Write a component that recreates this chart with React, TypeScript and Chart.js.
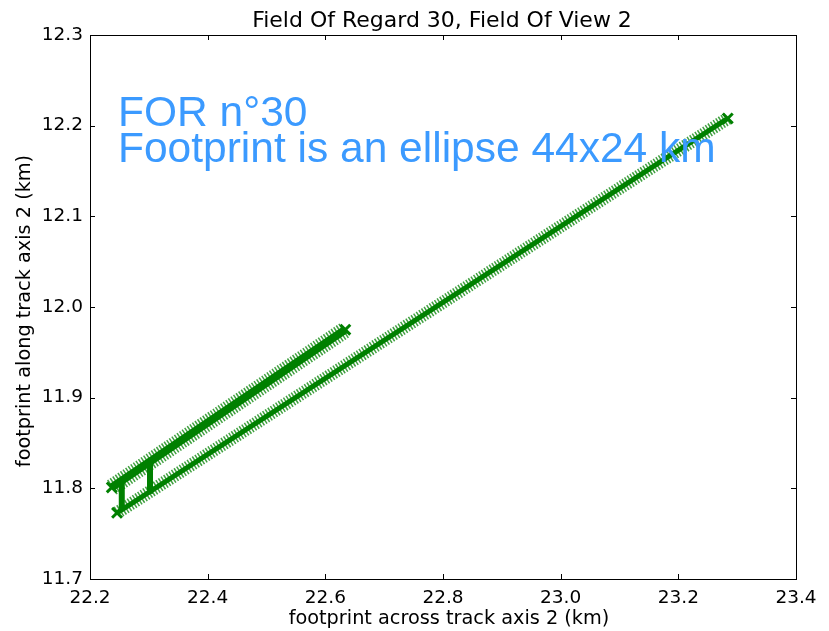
import React, { useEffect, useRef } from "react";
import { Chart, registerables } from "chart.js";

Chart.register(...registerables);

// Axis ticks
const xTicks = [22.2, 22.4, 22.6, 22.8, 23.0, 23.2, 23.4];
const yTicks = [11.7, 11.8, 11.9, 12.0, 12.1, 12.2, 12.3];

// Footprint centre tracks (across-track km, along-track km)
const upperTrackX = [22.237, 22.634];
const upperTrackY = [11.801, 11.975];
const lowerTrackX = [22.246, 23.284];
const lowerTrackY = [11.773, 12.208];
// Jumps between the two tracks
const jumpAX = [22.254, 22.254];
const jumpAY = [11.809, 11.776];
const jumpBX = [22.302, 22.302];
const jumpBY = [11.829, 11.794];

const titleText = "Field Of Regard 30, Field Of View 2";
const xLabel = "footprint across track axis 2 (km)";
const yLabel = "footprint along track axis 2 (km)";
const noteLines = ["FOR n°30", "Footprint is an ellipse 44x24 km"];

const GREEN = "#008000";
const uiFont = "DejaVu Sans";

const toPoints = (xs: number[], ys: number[]) => xs.map((x, i) => ({ x, y: ys[i] }));

const decorations = {
  id: "decorations",
  afterDraw(chart: any) {
    const { ctx, chartArea: a, scales } = chart;
    ctx.save();
    // frame
    ctx.strokeStyle = "#000";
    ctx.lineWidth = 1;
    ctx.strokeRect(Math.round(a.left) + 0.5, Math.round(a.top) + 0.5, Math.round(a.width), Math.round(a.height));
    // inward ticks on all four sides
    const len = 5;
    ctx.beginPath();
    for (const v of xTicks) {
      const px = Math.round(scales.x.getPixelForValue(v)) + 0.5;
      ctx.moveTo(px, a.bottom);
      ctx.lineTo(px, a.bottom - len);
      ctx.moveTo(px, a.top);
      ctx.lineTo(px, a.top + len);
    }
    for (const v of yTicks) {
      const py = Math.round(scales.y.getPixelForValue(v)) + 0.5;
      ctx.moveTo(a.left, py);
      ctx.lineTo(a.left + len, py);
      ctx.moveTo(a.right, py);
      ctx.lineTo(a.right - len, py);
    }
    ctx.stroke();

    const cx = (a.left + a.right) / 2;
    const cy = (a.top + a.bottom) / 2;
    ctx.fillStyle = "#000";
    ctx.textAlign = "center";
    ctx.textBaseline = "alphabetic";
    ctx.font = `22px "${uiFont}"`;
    ctx.fillText(titleText, cx - 1, 27);
    ctx.font = `19.3px "${uiFont}"`;
    ctx.fillText(xLabel, cx + 6, 624);
    ctx.save();
    ctx.translate(30, cy + 4);
    ctx.rotate(-Math.PI / 2);
    ctx.fillText(yLabel, 0, 0);
    ctx.restore();

    // annotation
    ctx.fillStyle = "#3b9aff";
    ctx.textAlign = "left";
    ctx.font = `42.5px "Liberation Sans"`;
    ctx.fillText(noteLines[0], 118, 126);
    ctx.fillText(noteLines[1], 118, 162);
    ctx.restore();
  },
};

function trackSets(xs: number[], ys: number[], comb: number, core: number) {
  const data = toPoints(xs, ys);
  return [
    {
      data,
      showLine: true,
      borderColor: "rgba(0,128,0,0.75)",
      borderWidth: comb,
      borderDash: [1.5, 1.6],
      borderCapStyle: "butt",
      pointRadius: 0,
    },
    {
      data,
      showLine: true,
      borderColor: GREEN,
      borderWidth: core,
      pointStyle: "crossRot",
      pointRadius: 7,
      pointBorderWidth: 3,
      pointBorderColor: GREEN,
    },
  ];
}

export default function App() {
  const ref = useRef<HTMLCanvasElement>(null);
  useEffect(() => {
    if (!ref.current) return;
    const chart = new Chart(ref.current, {
      type: "scatter",
      data: {
        datasets: [
          ...trackSets(lowerTrackX, lowerTrackY, 13, 5),
          ...trackSets(upperTrackX, upperTrackY, 17, 8),
          { data: toPoints(jumpAX, jumpAY), showLine: true, borderColor: GREEN, borderWidth: 6, pointRadius: 0 },
          { data: toPoints(jumpBX, jumpBY), showLine: true, borderColor: GREEN, borderWidth: 6, pointRadius: 0 },
        ] as any,
      },
      options: {
        animation: false,
        responsive: false,
        events: [],
        layout: { padding: { left: 0, right: 33, top: 35, bottom: 0 } },
        plugins: { legend: { display: false }, tooltip: { enabled: false }, title: { display: false } },
        scales: {
          x: {
            type: "linear",
            min: 22.2,
            max: 23.4,
            afterBuildTicks: (s: any) => { s.ticks = xTicks.map((v) => ({ value: v })); },
            afterFit: (s: any) => { s.height = 52; },
            grid: { display: false, drawTicks: false },
            border: { display: false },
            ticks: {
              padding: 8,
              color: "#000",
              font: { family: uiFont, size: 18.5 },
              maxRotation: 0,
              callback: (v: any) => Number(v).toFixed(1),
            },
          },
          y: {
            type: "linear",
            min: 11.7,
            max: 12.3,
            afterBuildTicks: (s: any) => { s.ticks = yTicks.map((v) => ({ value: v })); },
            afterFit: (s: any) => { s.width = 90; },
            grid: { display: false, drawTicks: false },
            border: { display: false },
            ticks: {
              padding: 7,
              color: "#000",
              font: { family: uiFont, size: 18.5 },
              callback: (v: any) => Number(v).toFixed(1),
            },
          },
        },
      },
      plugins: [decorations],
    });
    return () => chart.destroy();
  }, []);
  return (
    <div style={{ position: "fixed", left: 0, top: 0, width: 829, height: 631, background: "#fff" }}>
      <canvas ref={ref} width={829} height={631} style={{ width: 829, height: 631 }} />
    </div>
  );
}
